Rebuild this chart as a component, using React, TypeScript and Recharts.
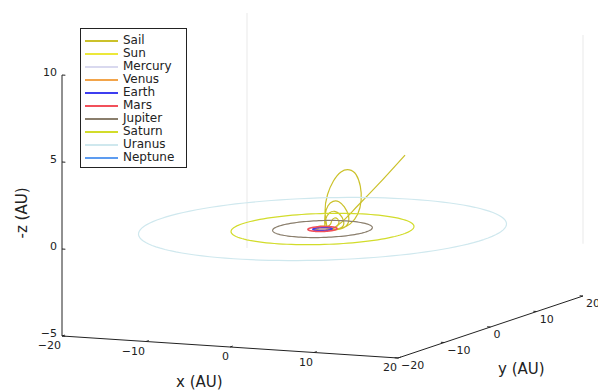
import React from "react";
import { ScatterChart, Scatter, XAxis, YAxis } from "recharts";

const W = 598;
const H = 392;

// legend entries, in plotting order
const seriesNames = ["Sail", "Sun", "Mercury", "Venus", "Earth", "Mars", "Jupiter", "Saturn", "Uranus", "Neptune"];
const seriesColors = ["#cbc12a", "#ece83a", "#d9d9ef", "#f2a44a", "#3d3df0", "#f2505a", "#8a7e6c", "#d2dc2a", "#cfe8ee", "#5d9cf0"];

// circular orbits, AU
const planetNames = ["Mercury", "Venus", "Earth", "Mars", "Jupiter", "Saturn", "Uranus", "Neptune"];
const orbitRadii = [0.39, 0.72, 1.0, 1.52, 5.2, 9.54, 19.19, 30.07];

// sail trajectory, AU: spiral + loops, then the escape leg
const sailX = [
  1.0, 0.7, 0.0, -0.65, -0.85, -0.55, 0.1, 0.65, 0.8, 0.5, 0.0, -0.5, -0.6, -0.3, 0.3, 0.7,
  0.9, 1.0, 1.3, 1.7, 1.9, 1.6, 1.0, 0.5,
  0.4, 0.4, 0.8, 1.4, 2.0, 2.5, 2.4, 1.6, 0.8,
  0.4, 0.3, 0.6, 1.2, 1.9, 2.6, 3.1, 3.0, 2.2, 1.2, 0.6,
  0.5, 0.3, 0.6, 1.3, 2.2, 3.2, 4.0, 4.5, 4.6, 4.2, 3.3, 2.2, 1.2, 0.7,
  1.3, 2.0, 4.0, 6.0, 9.0,
];
const sailY = [
  0.0, 0.7, 0.95, 0.6, 0.0, -0.6, -0.8, -0.45, 0.1, 0.55, 0.65, 0.4, -0.1, -0.5, -0.55, -0.2,
  0.1, 0.2, 0.25, 0.2, 0.1, -0.1, -0.3, -0.4,
  -0.2, 0.0, 0.1, 0.1, 0.1, 0.0, -0.1, -0.3, -0.4,
  -0.2, 0.0, 0.1, 0.1, 0.1, 0.0, 0.0, -0.1, -0.3, -0.4, -0.3,
  0.0, 0.0, 0.0, 0.0, 0.0, 0.0, 0.0, 0.0, 0.0, 0.0, 0.0, 0.0, -0.2, -0.3,
  -0.2, 0.0, 0.45, 0.9, 1.5,
];
const sailZ = [
  0.0, 0.0, 0.0, 0.0, 0.02, 0.03, 0.05, 0.05, 0.08, 0.1, 0.1, 0.12, 0.12, 0.15, 0.15, 0.18,
  0.3, 0.5, 0.65, 0.6, 0.4, 0.15, 0.05, 0.05,
  0.2, 0.6, 0.95, 1.05, 0.9, 0.55, 0.2, 0.05, 0.05,
  0.2, 0.8, 1.35, 1.62, 1.62, 1.35, 0.85, 0.35, 0.08, 0.03, 0.1,
  0.2, 1.0, 2.0, 2.8, 3.35, 3.5, 3.25, 2.6, 1.8, 1.0, 0.4, 0.1, 0.0, 0.05,
  0.1, 0.35, 1.45, 2.6, 4.4,
];
const escapeStart = 58; // index where the escape leg begins

// axes
const xLim = [-20, 20];
const yLim = [-20, 20];
const zLim = [-5, 10];
const xTicks = [-20, -10, 0, 10, 20];
const yTicks = [-20, -10, 0, 10, 20];
const zTicks = [-5, 0, 5, 10];

// camera: screen position of the origin and of one AU along each axis
const O = [322.5, 229];
const EX = [8.4, 0.55];
const EY = [4.625, -1.55];
const EZ = [0, -17.4];

const proj = (x: number, y: number, z: number) => ({
  px: O[0] + EX[0] * x + EY[0] * y + EZ[0] * z,
  py: O[1] + EX[1] * x + EY[1] * y + EZ[1] * z,
});

const inBox = (x: number, y: number) => x >= xLim[0] && x <= xLim[1] && y >= yLim[0] && y <= yLim[1];

const orbitPoints = (r: number) => {
  const pts = [];
  for (let k = 0; k <= 120; k++) {
    const a = (k / 120) * Math.PI * 2;
    const x = r * Math.cos(a);
    const y = r * Math.sin(a);
    if (inBox(x, y)) pts.push(proj(x, y, 0));
  }
  return pts;
};

const sailData = sailX.map((x, i) => proj(x, sailY[i], sailZ[i]));
const sailLoops = sailData.slice(0, escapeStart);
const sailEscape = sailData.slice(escapeStart - 1);

const axisLines = [
  [proj(xLim[0], yLim[0], zLim[0]), proj(xLim[0], yLim[0], zLim[1])],
  [proj(xLim[0], yLim[0], zLim[0]), proj(xLim[1], yLim[0], zLim[0])],
  [proj(xLim[1], yLim[0], zLim[0]), proj(xLim[1], yLim[1], zLim[0])],
];
const backEdges = [
  [proj(xLim[0], yLim[1], zLim[0] + 1.5), proj(xLim[0], yLim[1], zLim[1])],
  [proj(xLim[1], yLim[1], zLim[0] + 3), proj(xLim[1], yLim[1], zLim[1])],
];
const tickMarks = [
  ...xTicks.map((t) => [proj(t, yLim[0], zLim[0]), proj(t, yLim[0] + 0.6, zLim[0])]),
  ...yTicks.map((t) => [proj(xLim[1], t, zLim[0]), proj(xLim[1] - 0.4, t, zLim[0])]),
  ...zTicks.map((t) => [proj(xLim[0], yLim[0], t), proj(xLim[0] + 0.4, yLim[0], t)]),
];

const fmt = (v: number) => (v < 0 ? `\u2212${Math.abs(v)}` : `${v}`);
const xLabels = xTicks.map((t) => ({ ...proj(t, yLim[0], zLim[0]), label: fmt(t) }));
const yLabels = yTicks.map((t) => ({ ...proj(xLim[1], t, zLim[0]), label: fmt(t) }));
const zLabels = zTicks.map((t) => ({ ...proj(xLim[0], yLim[0], t), label: fmt(t) }));

const FONT = "'DejaVu Sans', sans-serif";
const noDot = () => <g />;

const tickText = (dx: number, dy: number, anchor: string) => (p: any) => (
  <text x={p.cx + dx} y={p.cy + dy} textAnchor={anchor} fontSize={11} fontFamily={FONT} fill="#222">
    {p.payload.label}
  </text>
);

function LegendBox() {
  return (
    <div
      style={{
        position: "absolute",
        left: 80,
        top: 28,
        width: 107,
        height: 140,
        boxSizing: "border-box",
        border: "1px solid #222",
        background: "#fff",
        fontFamily: FONT,
        fontSize: 12,
        color: "#222",
      }}
    >
      {seriesNames.map((n, i) => (
        <div key={n} style={{ position: "absolute", left: 0, top: 5 + 13 * i, height: 13, width: 105 }}>
          <div style={{ position: "absolute", left: 4, top: 6, width: 33, height: 2, background: seriesColors[i] }} />
          <div style={{ position: "absolute", left: 42, top: 0, lineHeight: "13px" }}>{n}</div>
        </div>
      ))}
    </div>
  );
}

export default function App() {
  return (
    <div style={{ position: "fixed", left: 0, top: 0, width: W, height: H, background: "#fff" }}>
      <ScatterChart width={W} height={H} margin={{ top: 0, right: 0, bottom: 0, left: 0 }}>
        <XAxis type="number" dataKey="px" domain={[0, W]} allowDataOverflow hide />
        <YAxis type="number" dataKey="py" domain={[0, H]} allowDataOverflow reversed hide />

        {backEdges.map((seg, i) => (
          <Scatter key={`be${i}`} data={seg} fill="#f0f0f0" line={{ stroke: "#f0f0f0", strokeWidth: 1.5 }} shape={noDot} isAnimationActive={false} />
        ))}

        <Scatter
          data={sailLoops}
          fill={seriesColors[0]}
          line={{ stroke: seriesColors[0], strokeWidth: 1.2 }}
          lineJointType="natural"
          shape={noDot}
          isAnimationActive={false}
        />
        <Scatter
          data={sailEscape}
          fill={seriesColors[0]}
          line={{ stroke: seriesColors[0], strokeWidth: 1.2 }}
          lineJointType="monotoneX"
          shape={noDot}
          isAnimationActive={false}
        />
        {planetNames.map((n, i) => {
          const c = seriesColors[seriesNames.indexOf(n)];
          return (
            <Scatter
              key={n}
              data={orbitPoints(orbitRadii[i])}
              fill={c}
              line={{ stroke: c, strokeWidth: n === "Earth" || n === "Mars" ? 1.6 : 1.2 }}
              shape={noDot}
              isAnimationActive={false}
            />
          );
        })}

        {axisLines.map((seg, i) => (
          <Scatter key={`ax${i}`} data={seg} fill="#222" line={{ stroke: "#222", strokeWidth: 1 }} shape={noDot} isAnimationActive={false} />
        ))}
        {tickMarks.map((seg, i) => (
          <Scatter key={`tk${i}`} data={seg} fill="#222" line={{ stroke: "#222", strokeWidth: 1 }} shape={noDot} isAnimationActive={false} />
        ))}
        <Scatter data={xLabels} shape={tickText(-1, 13, "end")} isAnimationActive={false} />
        <Scatter data={yLabels} shape={tickText(3, 11, "start")} isAnimationActive={false} />
        <Scatter data={zLabels} shape={tickText(-5, 1, "end")} isAnimationActive={false} />
      </ScatterChart>

      <div style={{ position: "absolute", left: 176, top: 373, fontFamily: FONT, fontSize: 15, color: "#222", whiteSpace: "nowrap" }}>x (AU)</div>
      <div style={{ position: "absolute", left: 498, top: 360, fontFamily: FONT, fontSize: 15, color: "#222", whiteSpace: "nowrap" }}>y (AU)</div>
      <div
        style={{
          position: "absolute",
          left: 22,
          top: 213,
          transform: "translate(-50%, -50%) rotate(-90deg)",
          fontFamily: FONT,
          fontSize: 15,
          color: "#222",
          whiteSpace: "nowrap",
        }}
      >
        -z (AU)
      </div>
      <LegendBox />
    </div>
  );
}
